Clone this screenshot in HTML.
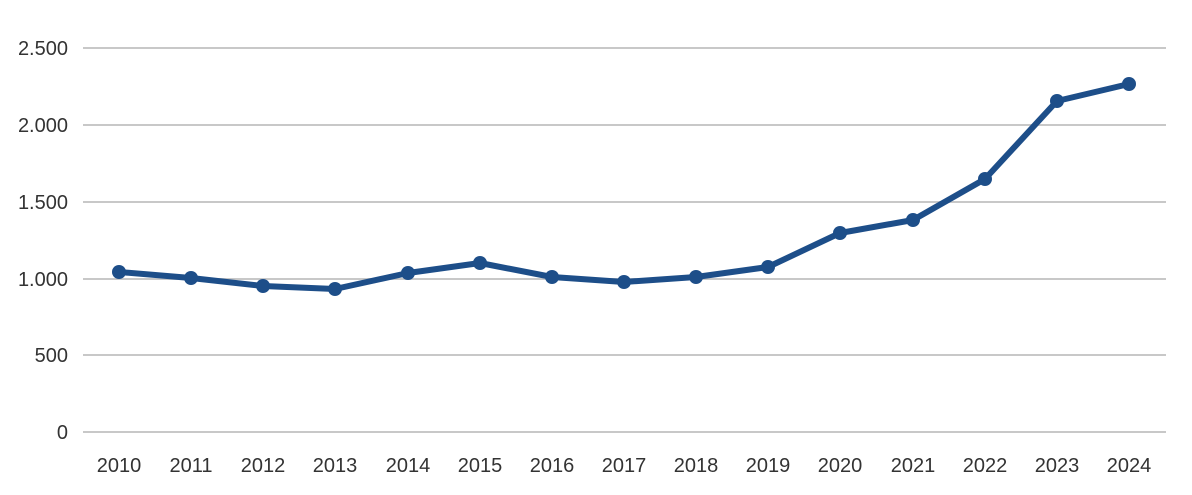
<!DOCTYPE html>
<html><head><meta charset="utf-8"><style>
html,body{margin:0;padding:0;background:#fff;}
svg{display:block;font-family:"Liberation Sans",sans-serif;}
</style></head><body>
<svg width="1192" height="495" viewBox="0 0 1192 495">
<g stroke="#c8c8c8" stroke-width="2">
<line x1="83" y1="48" x2="1166" y2="48"/>
<line x1="83" y1="125" x2="1166" y2="125"/>
<line x1="83" y1="202" x2="1166" y2="202"/>
<line x1="83" y1="279" x2="1166" y2="279"/>
<line x1="83" y1="355" x2="1166" y2="355"/>
<line x1="83" y1="432" x2="1166" y2="432"/>
</g>
<g fill="#333" font-size="20" text-anchor="end">
<text x="68" y="55">2.500</text>
<text x="68" y="132">2.000</text>
<text x="68" y="209">1.500</text>
<text x="68" y="286">1.000</text>
<text x="68" y="362">500</text>
<text x="68" y="439">0</text>
</g>
<g fill="#333" font-size="20" text-anchor="middle">
<text x="119" y="472">2010</text><text x="191" y="472">2011</text><text x="263" y="472">2012</text>
<text x="335" y="472">2013</text><text x="408" y="472">2014</text><text x="480" y="472">2015</text>
<text x="552" y="472">2016</text><text x="624" y="472">2017</text><text x="696" y="472">2018</text>
<text x="768" y="472">2019</text><text x="840" y="472">2020</text><text x="913" y="472">2021</text>
<text x="985" y="472">2022</text><text x="1057" y="472">2023</text><text x="1129" y="472">2024</text>
</g>
<polyline fill="none" stroke="#1d4e89" stroke-width="6" stroke-linejoin="round"
points="119,272 191,278 263,286 335,289 408,273 480,263 552,277 624,282 696,277 768,267 840,233 913,220 985,179 1057,101 1129,84"/>
<g fill="#1d4e89">
<circle cx="119" cy="272" r="7"/><circle cx="191" cy="278" r="7"/><circle cx="263" cy="286" r="7"/>
<circle cx="335" cy="289" r="7"/><circle cx="408" cy="273" r="7"/><circle cx="480" cy="263" r="7"/>
<circle cx="552" cy="277" r="7"/><circle cx="624" cy="282" r="7"/><circle cx="696" cy="277" r="7"/>
<circle cx="768" cy="267" r="7"/><circle cx="840" cy="233" r="7"/><circle cx="913" cy="220" r="7"/>
<circle cx="985" cy="179" r="7"/><circle cx="1057" cy="101" r="7"/><circle cx="1129" cy="84" r="7"/>
</g>
</svg>
</body></html>
